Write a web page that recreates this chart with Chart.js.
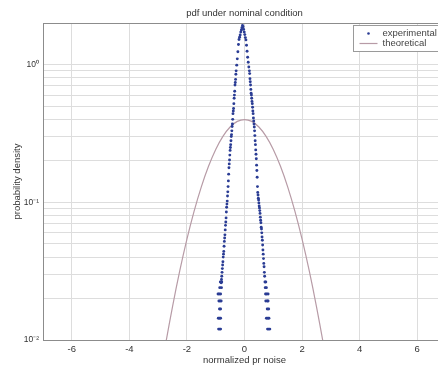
<!DOCTYPE html>
<html><head><meta charset="utf-8">
<script src="https://cdn.jsdelivr.net/npm/chart.js@4/dist/chart.umd.min.js"></script>
<style>
html,body{margin:0;padding:0;background:#fff;overflow:hidden;width:438px;height:369px}
canvas{display:block}
</style></head>
<body>
<canvas id="c" width="450" height="369"></canvas>
<script>
const titleText = 'pdf under nominal condition';
const xTitle = 'normalized pr noise';
const yTitle = 'probability density';
const seriesNames = ['experimental', 'theoretical'];

const xTickValues = [-6, -4, -2, 0, 2, 4, 6];
const yGridValues = [0.01,0.02,0.03,0.04,0.05,0.06,0.07,0.08,0.09,0.1,0.2,0.3,0.4,0.5,0.6,0.7,0.8,0.9,1,2];
const yMajorValues = [0.01, 0.1, 1];
const yMajorLabels = ['10\u207B\u00B2', '10\u207B\u00B9', '10\u2070'];

// experimental: left flank
const expLeftX = [-0.07,-0.09,-0.11,-0.13,-0.15,-0.17,-0.19,-0.21,-0.23,-0.25,-0.27,
  -0.29,-0.30,-0.31,-0.32,-0.33,-0.34,-0.35,-0.36,-0.37,-0.38,-0.39,-0.40,-0.41,-0.42,-0.43,-0.44,-0.45,
  -0.46,-0.47,-0.48,-0.49,-0.50,-0.51,-0.52,-0.53,-0.54,-0.55,-0.56,-0.57,-0.58,-0.59,-0.60,-0.61,-0.62,
  -0.63,-0.64,-0.65,-0.66,-0.67,-0.68,-0.69,-0.70,-0.71,-0.72,-0.73,-0.74,-0.75,-0.76,-0.77,-0.78,-0.79,-0.80,-0.81];
const expLeftY = [1.92,1.85,1.78,1.72,1.64,1.58,1.52,1.40,1.24,1.10,0.99,
  0.90,0.85,0.78,0.74,0.71,0.64,0.60,0.57,0.52,0.48,0.46,0.44,0.40,0.37,0.355,0.33,0.31,
  0.30,0.28,0.262,0.25,0.238,0.22,0.203,0.19,0.178,0.16,0.143,0.13,0.119,0.111,0.102,0.097,0.092,
  0.085,0.077,0.072,0.068,0.063,0.058,0.055,0.052,0.048,0.044,0.042,0.040,0.037,0.035,0.033,0.031,0.029,0.0275,0.026];

// experimental: right flank
const expRightX = [-0.05,-0.03,-0.01,0.01,0.03,0.05,0.07,0.09,0.11,0.13,0.15,
  0.17,0.18,0.19,0.20,0.21,0.22,0.23,0.24,0.25,0.26,0.27,0.28,0.29,0.30,0.31,0.32,0.33,0.34,0.35,
  0.36,0.37,0.38,0.39,0.40,0.41,0.42,0.43,0.44,0.45,0.46,0.47,0.48,0.49,0.50,0.51,0.52,0.53,0.54,
  0.55,0.56,0.57,0.58,0.59,0.60,0.61,0.62,0.63,0.64,0.65,0.66,0.67,0.68,0.69,0.70];
const expRightY = [1.88,1.80,1.72,1.65,1.57,1.51,1.38,1.25,1.13,1.04,0.96,
  0.90,0.86,0.79,0.75,0.71,0.66,0.62,0.60,0.57,0.54,0.52,0.49,0.46,0.44,0.41,0.39,0.37,0.352,0.33,
  0.305,0.28,0.262,0.24,0.223,0.207,0.186,0.17,0.152,0.13,0.118,0.113,0.107,0.104,0.099,0.094,0.091,0.087,0.083,
  0.078,0.074,0.071,0.066,0.064,0.060,0.056,0.053,0.049,0.045,0.042,0.039,0.036,0.034,0.031,0.029];

// experimental: sparse tails (few counts per bin)
const expTailX = [-0.84,-0.79,0.71,0.74, -0.86,-0.80,0.72,0.76, -0.92,-0.88,-0.83,0.73,0.77,0.82,
  -0.89,-0.85,-0.81,0.74,0.79,0.82, -0.87,-0.83,0.79,0.84, -0.91,-0.87,-0.83,0.76,0.81,0.85,
  -0.90,-0.86,-0.83,0.80,0.84,0.88];
const expTailY = [0.0264,0.0264,0.0264,0.0264, 0.024,0.024,0.024,0.024,
  0.0216,0.0216,0.0216,0.0216,0.0216,0.0216, 0.0192,0.0192,0.0192,0.0192,0.0192,0.0192,
  0.0168,0.0168,0.0168,0.0168, 0.0144,0.0144,0.0144,0.0144,0.0144,0.0144,
  0.012,0.012,0.012,0.012,0.012,0.012];

// theoretical
const theoX = [-3,-2.75,-2.5,-2.25,-2,-1.75,-1.5,-1.25,-1,-0.75,-0.5,-0.25,0,0.25,0.5,0.75,1,1.25,1.5,1.75,2,2.25,2.5,2.75,3];
const theoY = [0.0044,0.0091,0.0175,0.0317,0.054,0.0863,0.1295,0.1826,0.242,0.3011,0.3521,0.3867,0.3989,0.3867,0.3521,0.3011,0.242,0.1826,0.1295,0.0863,0.054,0.0317,0.0175,0.0091,0.0044];

const zip = (xs, ys) => xs.map((x, i) => ({x: x, y: ys[i]}));
const expData = zip(expLeftX, expLeftY).concat(zip(expRightX, expRightY), zip(expTailX, expTailY));
const theoData = zip(theoX, theoY);

const FONT = '"Liberation Sans", Arial, Helvetica, sans-serif';
const TEXT = '#333333';
const BLUE = '#2a3c94';
const THEO = '#b79ba6';

Chart.defaults.font.family = FONT;
Chart.defaults.font.size = 9.5;
Chart.defaults.color = TEXT;

const framePlugin = {
  id: 'frame',
  beforeDatasetsDraw(chart) {
    const {ctx, chartArea: a} = chart;
    ctx.save();
    ctx.strokeStyle = '#8c8c8c';
    ctx.lineWidth = 1;
    ctx.strokeRect(Math.round(a.left) + 0.5, Math.round(a.top) + 0.5,
      Math.round(a.right - a.left), Math.round(a.bottom - a.top));
    ctx.restore();
  }
};

const boxLegend = {
  id: 'boxLegend',
  afterDatasetsDraw(chart) {
    const {ctx, chartArea: a} = chart;
    const ds = chart.data.datasets;
    const left = Math.round(a.right - 93) + 0.5;
    const top = Math.round(a.top + 2) + 0.5;
    ctx.save();
    ctx.fillStyle = '#ffffff';
    ctx.fillRect(left, top, 110, 26);
    ctx.strokeStyle = '#9a9a9a';
    ctx.lineWidth = 1;
    ctx.strokeRect(left, top, 110, 26);
    ctx.font = '9.5px ' + FONT;
    ctx.textBaseline = 'middle';
    ctx.textAlign = 'left';
    ctx.fillStyle = ds[0].backgroundColor;
    ctx.beginPath();
    ctx.arc(left + 15, top + 8, 1.3, 0, Math.PI * 2);
    ctx.fill();
    ctx.fillStyle = '#444444';
    ctx.fillText(ds[0].label, left + 29, top + 8);
    ctx.strokeStyle = ds[1].borderColor;
    ctx.lineWidth = 1.2;
    ctx.beginPath();
    ctx.moveTo(left + 6, top + 18);
    ctx.lineTo(left + 24, top + 18);
    ctx.stroke();
    ctx.fillStyle = '#444444';
    ctx.fillText(ds[1].label, left + 29, top + 18);
    ctx.restore();
  }
};

new Chart(document.getElementById('c'), {
  type: 'scatter',
  data: {
    datasets: [
      {
        label: seriesNames[0],
        data: expData,
        backgroundColor: BLUE,
        borderColor: BLUE,
        pointRadius: 1.45,
        pointBorderWidth: 0,
        pointStyle: 'circle',
        showLine: false
      },
      {
        label: seriesNames[1],
        data: theoData,
        borderColor: THEO,
        backgroundColor: THEO,
        borderWidth: 1.2,
        pointRadius: 0,
        showLine: true,
        cubicInterpolationMode: 'monotone'
      }
    ]
  },
  options: {
    responsive: false,
    animation: false,
    events: [],
    layout: { padding: { left: 0, right: 4, top: 0, bottom: 0 } },
    plugins: {
      legend: { display: false },
      tooltip: { enabled: false },
      title: {
        display: true,
        text: titleText,
        fullSize: false,
        color: TEXT,
        font: { size: 9.5, weight: 'normal' },
        padding: { top: 7.5, bottom: 4.2 }
      }
    },
    scales: {
      x: {
        type: 'linear',
        min: -7,
        max: 7,
        afterBuildTicks(scale) { scale.ticks = xTickValues.map(v => ({value: v})); },
        afterFit(scale) { scale.height = 29; },
        grid: { color: '#dddddd', lineWidth: 1, drawTicks: false },
        border: { display: false },
        ticks: { padding: 3.5, autoSkip: false, maxRotation: 0, color: TEXT, font: { size: 9.5 } },
        title: { display: true, text: xTitle, color: TEXT, font: { size: 9.5 }, padding: { top: 0, bottom: 3 } }
      },
      y: {
        type: 'logarithmic',
        min: 0.01,
        max: 2,
        afterBuildTicks(scale) { scale.ticks = yGridValues.map(v => ({value: v})); },
        afterFit(scale) { scale.width = 43; },
        grid: { color: '#dddddd', lineWidth: 1, drawTicks: false },
        border: { display: false },
        ticks: {
          padding: 4,
          autoSkip: false,
          color: TEXT,
          font: { size: 8.5 },
          callback(v) {
            const i = yMajorValues.indexOf(v);
            return i >= 0 ? yMajorLabels[i] : '';
          }
        },
        title: { display: true, text: yTitle, color: TEXT, font: { size: 9.5 }, padding: { top: 11.5, bottom: 0 } }
      }
    }
  },
  plugins: [framePlugin, boxLegend]
});
</script>
</body></html>
